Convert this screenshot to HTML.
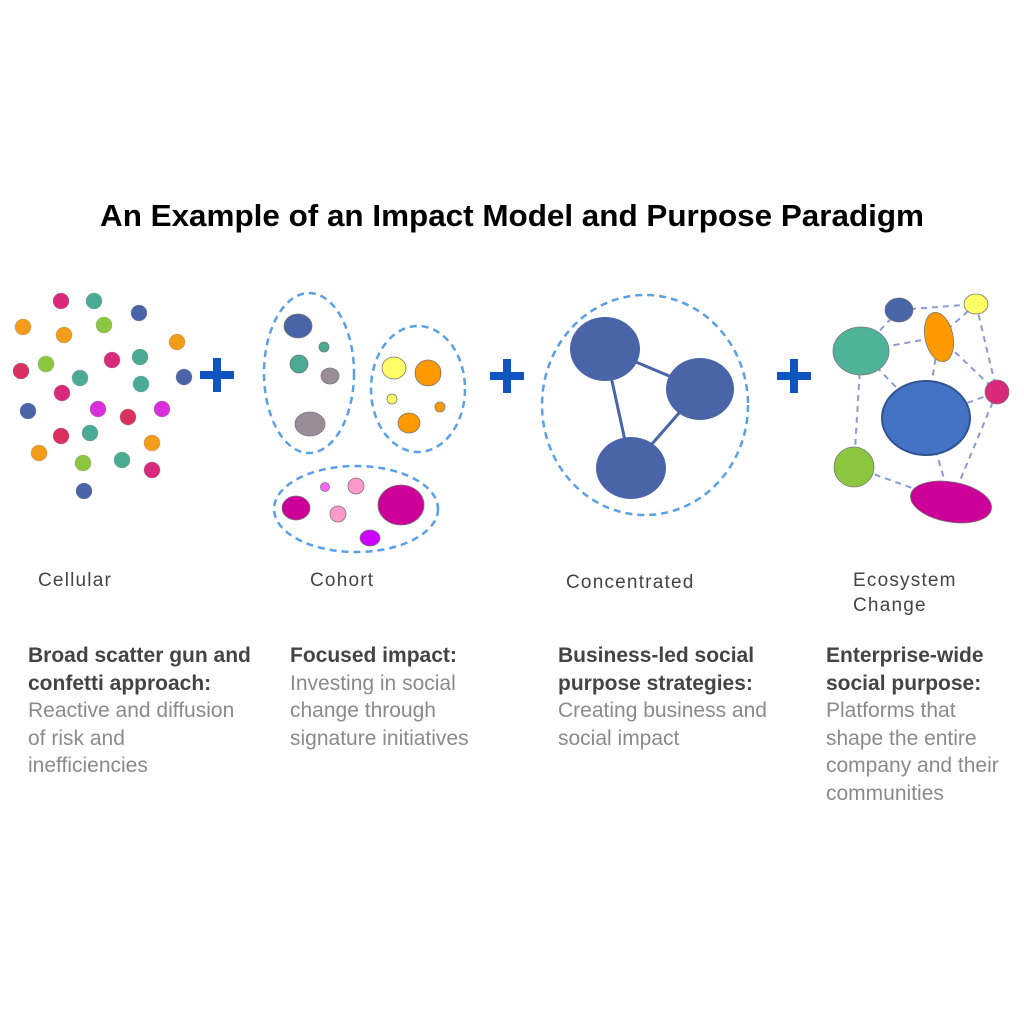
<!DOCTYPE html>
<html><head><style>
body{margin:0;background:#fff;width:1024px;height:1024px;overflow:hidden;font-family:"Liberation Sans",sans-serif}
svg{position:absolute;left:0;top:0}
.t{position:absolute;font-size:21px;line-height:27.5px;color:#8a8a8a;letter-spacing:0px;white-space:nowrap}
.t b{color:#444}
.l{position:absolute;font-size:19px;color:#444;line-height:25px;letter-spacing:1.2px}
</style></head><body>
<svg width="1024" height="1024" viewBox="0 0 1024 1024">
<text x="512" y="226" text-anchor="middle" font-family="Liberation Sans" font-weight="bold" font-size="31" fill="#000" textLength="824" lengthAdjust="spacingAndGlyphs">An Example of an Impact Model and Purpose Paradigm</text>
<g stroke="#888" stroke-width="0.6" stroke-opacity="0.5">
<circle cx="61" cy="301" r="8" fill="#d9297a"/><circle cx="94" cy="301" r="8" fill="#4aaa94"/><circle cx="139" cy="313" r="8" fill="#4a64a8"/>
<circle cx="23" cy="327" r="8" fill="#f39c1a"/><circle cx="64" cy="335" r="8" fill="#f39c1a"/><circle cx="104" cy="325" r="8" fill="#8cc63f"/>
<circle cx="177" cy="342" r="8" fill="#f39c1a"/><circle cx="21" cy="371" r="8" fill="#d93060"/><circle cx="46" cy="364" r="8" fill="#8cc63f"/>
<circle cx="112" cy="360" r="8" fill="#d9297a"/><circle cx="140" cy="357" r="8" fill="#4aaa94"/><circle cx="80" cy="378" r="8" fill="#4aaa94"/>
<circle cx="184" cy="377" r="8" fill="#4a64a8"/><circle cx="62" cy="393" r="8" fill="#d9297a"/><circle cx="141" cy="384" r="8" fill="#4aaa94"/>
<circle cx="28" cy="411" r="8" fill="#4a64a8"/><circle cx="98" cy="409" r="8" fill="#d92ed9"/><circle cx="128" cy="417" r="8" fill="#d93060"/>
<circle cx="162" cy="409" r="8" fill="#d92ed9"/><circle cx="61" cy="436" r="8" fill="#d93060"/><circle cx="90" cy="433" r="8" fill="#4aaa94"/>
<circle cx="152" cy="443" r="8" fill="#f39c1a"/><circle cx="39" cy="453" r="8" fill="#f39c1a"/><circle cx="83" cy="463" r="8" fill="#8cc63f"/>
<circle cx="122" cy="460" r="8" fill="#4aaa94"/><circle cx="152" cy="470" r="8" fill="#d9297a"/><circle cx="84" cy="491" r="8" fill="#4a64a8"/>
</g>
<g fill="#0f55c2">
<rect x="200" y="371" width="34" height="8"/><rect x="213" y="358" width="8" height="34"/>
<rect x="490" y="372" width="34" height="8"/><rect x="503" y="359" width="8" height="34"/>
<rect x="777" y="372" width="34" height="8"/><rect x="790" y="359" width="8" height="34"/>
</g>
<g fill="none" stroke="#5aa0e6" stroke-width="2.5" stroke-dasharray="7,5">
<ellipse cx="309" cy="373" rx="45" ry="80"/>
<ellipse cx="418" cy="389" rx="47" ry="63"/>
<ellipse cx="356" cy="509" rx="82" ry="43"/>
<ellipse cx="645" cy="405" rx="103" ry="110"/>
</g>
<g stroke="#777" stroke-width="0.8">
<ellipse cx="298" cy="326" rx="14" ry="12" fill="#4a64a8"/><circle cx="324" cy="347" r="5" fill="#4aaa94"/>
<circle cx="299" cy="364" r="9" fill="#4aaa94"/><ellipse cx="330" cy="376" rx="9" ry="8" fill="#9a8c98"/>
<ellipse cx="310" cy="424" rx="15" ry="12" fill="#9a8c98"/>
<ellipse cx="394" cy="368" rx="12" ry="11" fill="#ffff66"/><circle cx="428" cy="373" r="13" fill="#ff9900"/>
<circle cx="392" cy="399" r="5" fill="#ffff66"/><circle cx="440" cy="407" r="5" fill="#ff9900"/>
<ellipse cx="409" cy="423" rx="11" ry="10" fill="#ff9900"/>
<ellipse cx="296" cy="508" rx="14" ry="12" fill="#cc0099"/><circle cx="325" cy="487" r="4.5" fill="#ff66ff"/>
<circle cx="356" cy="486" r="8" fill="#ff99cc"/><circle cx="338" cy="514" r="8" fill="#ff99cc"/>
<ellipse cx="401" cy="505" rx="23" ry="20" fill="#cc0099"/><ellipse cx="370" cy="538" rx="10" ry="8" fill="#cc00ff"/>
</g>
<g stroke="#4a64a8" stroke-width="3"><line x1="605" y1="349" x2="700" y2="389"/><line x1="605" y1="349" x2="631" y2="468"/><line x1="700" y1="389" x2="631" y2="468"/></g>
<g fill="#4a64a8"><ellipse cx="605" cy="349" rx="35" ry="32"/><ellipse cx="700" cy="389" rx="34" ry="31"/><ellipse cx="631" cy="468" rx="35" ry="31"/></g>
<g stroke="#8a9cd0" stroke-width="2" stroke-dasharray="6,5">
<line x1="899" y1="310" x2="976" y2="304"/><line x1="899" y1="310" x2="861" y2="351"/><line x1="861" y1="351" x2="939" y2="337"/>
<line x1="939" y1="337" x2="976" y2="304"/><line x1="976" y1="304" x2="997" y2="392"/><line x1="939" y1="337" x2="997" y2="392"/>
<line x1="861" y1="351" x2="926" y2="418"/><line x1="939" y1="337" x2="926" y2="418"/><line x1="926" y1="418" x2="997" y2="392"/>
<line x1="861" y1="351" x2="854" y2="467"/><line x1="854" y1="467" x2="951" y2="502"/><line x1="997" y1="392" x2="951" y2="502"/>
<line x1="926" y1="418" x2="951" y2="502"/>
</g>
<g stroke="#777" stroke-width="0.8">
<ellipse cx="899" cy="310" rx="14" ry="12" fill="#4a64a8"/><ellipse cx="976" cy="304" rx="12" ry="10" fill="#ffff66"/>
<ellipse cx="939" cy="337" rx="14" ry="25" fill="#ff9900" transform="rotate(-12 939 337)"/>
<ellipse cx="861" cy="351" rx="28" ry="24" fill="#4fb39a"/>
<ellipse cx="926" cy="418" rx="44" ry="37" fill="#4472c4" stroke="#2f528f" stroke-width="2"/>
<circle cx="997" cy="392" r="12" fill="#d9297a"/><circle cx="854" cy="467" r="20" fill="#8cc63f"/>
<ellipse cx="951" cy="502" rx="41" ry="20" fill="#cc0099" transform="rotate(10 951 502)"/>
</g>
</svg>
<div class="l" style="left:38px;top:568px">Cellular</div>
<div class="l" style="left:310px;top:568px">Cohort</div>
<div class="l" style="left:566px;top:570px">Concentrated</div>
<div class="l" style="left:853px;top:568px">Ecosystem<br>Change</div>
<div class="t" style="left:28px;top:642px"><b>Broad scatter gun and<br>confetti approach:</b><br>Reactive and diffusion<br>of risk and<br>inefficiencies</div>
<div class="t" style="left:290px;top:642px"><b>Focused impact:</b><br>Investing in social<br>change through<br>signature initiatives</div>
<div class="t" style="left:558px;top:642px"><b>Business-led social<br>purpose strategies:</b><br>Creating business and<br>social impact</div>
<div class="t" style="left:826px;top:642px"><b>Enterprise-wide<br>social purpose:</b><br>Platforms that<br>shape the entire<br>company and their<br>communities</div>
</body></html>
